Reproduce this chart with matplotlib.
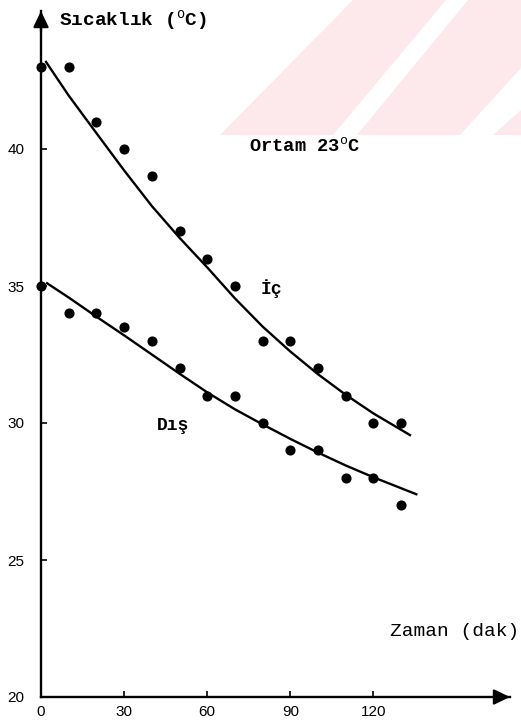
import numpy as np
import matplotlib
matplotlib.use("Agg")
import matplotlib.pyplot as plt
from matplotlib.patches import Polygon

plt.rcParams['mathtext.fontset'] = 'custom'
plt.rcParams['mathtext.rm'] = 'Liberation Mono'
plt.rcParams['mathtext.it'] = 'Liberation Mono'

# ---- data ----
time_min = [0, 10, 20, 30, 40, 50, 60, 70, 80, 90, 100, 110, 120, 130]
ic_temp = [43, 43, 41, 40, 39, 37, 36, 35, 33, 33, 32, 31, 30, 30]
dis_temp = [35, 34, 34, 33.5, 33, 32, 31, 31, 30, 29, 29, 28, 28, 27]

# hand-drawn trend curves
ic_curve_t = [1.8, 10, 20, 30, 40, 50, 60, 70, 80, 90, 100, 110, 120, 133.2]
ic_curve_y = [43.18, 41.95, 40.58, 39.22, 37.92, 36.76, 35.68, 34.55, 33.52,
              32.61, 31.78, 31.03, 30.35, 29.56]
dis_curve_t = [2.2, 10, 20, 30, 40, 50, 60, 70, 80, 90, 100, 110, 120, 135.5]
dis_curve_y = [35.10, 34.58, 33.88, 33.20, 32.50, 31.80, 31.12, 30.50, 29.95,
               29.42, 28.92, 28.45, 28.02, 27.40]

x_ticks = [0, 30, 60, 90, 120]
y_ticks = [20, 25, 30, 35, 40]

W, H = 521, 722
fig = plt.figure(figsize=(W / 100, H / 100), dpi=100)
fig.patch.set_facecolor('white')

# faint watermark stripes in the background (pixel coords from top-left)
def px(pts):
    return [(x / W, 1 - y / H) for x, y in pts]

wm_color = '#fde8ec'
for poly in ([(220, 135), (333, 135), (446, 0), (353, 0)],
             [(357, 135), (460, 135), (521, 68), (521, 0), (468, 0)],
             [(493, 135), (521, 135), (521, 110)]):
    fig.patches.append(Polygon(px(poly), closed=True, transform=fig.transFigure,
                               facecolor=wm_color, edgecolor='none', zorder=-5))

top_px = 11
ax = fig.add_axes([41 / W, 25 / H, (510 - 41) / W, (697 - top_px) / H])
ax.patch.set_visible(False)
ax.set_xlim(0, (510 - 41) / 2.77)
ax.set_ylim(20, 20 + (697 - top_px) / 27.4)

for s in ('top', 'right'):
    ax.spines[s].set_visible(False)
for s in ('left', 'bottom'):
    ax.spines[s].set_linewidth(1.7)
    ax.spines[s].set_color('black')

ax.set_xticks(x_ticks)
ax.set_yticks(y_ticks)
ax.tick_params(axis='both', direction='in', length=4, width=1.2,
               labelsize=11, colors='black')
ax.tick_params(axis='x', pad=6)
ax.tick_params(axis='y', pad=12)
for lab in ax.get_xticklabels() + ax.get_yticklabels():
    lab.set_fontfamily('Liberation Sans')

# arrow heads
head = '-|>,head_length=0.75,head_width=0.36'
ax.annotate('', xy=(0, 1.0), xytext=(0, 0.97), xycoords='axes fraction',
            arrowprops=dict(arrowstyle=head, facecolor='black', edgecolor='black',
                            lw=1.6, mutation_scale=13, shrinkA=0, shrinkB=0),
            annotation_clip=False)
ax.annotate('', xy=(1.0, 0), xytext=(0.97, 0), xycoords='axes fraction',
            arrowprops=dict(arrowstyle=head, facecolor='black', edgecolor='black',
                            lw=1.6, mutation_scale=13, shrinkA=0, shrinkB=0),
            annotation_clip=False)

# points
ax.plot(time_min, ic_temp, 'o', color='black', ms=6.3, clip_on=False, zorder=4)
ax.plot(time_min, dis_temp, 'o', color='black', ms=6.3, clip_on=False, zorder=4)

# trend curves
ax.plot(ic_curve_t, ic_curve_y, color='black', lw=1.7, zorder=3,
        solid_joinstyle='round')
ax.plot(dis_curve_t, dis_curve_y, color='black', lw=1.7, zorder=3,
        solid_joinstyle='round')

mono = dict(family='Liberation Mono', color='black')
ax.text(6.5, 44.7, r'Sıcaklık ($^{\mathrm{o}}$C)', fontsize=14, va='center',
        ha='left', weight='bold', **mono)
ax.text(75, 40.1, r'Ortam 23$^{\mathrm{o}}$C', fontsize=13.5, va='center',
        ha='left', weight='bold', **mono)
ax.text(79.4, 34.9, 'İç', fontsize=13, va='center', ha='left', weight='bold', **mono)
ax.text(41.9, 29.9, 'Dış', fontsize=13, va='center', ha='left', weight='bold', **mono)
ax.text(126, 22.4, 'Zaman (dak)', fontsize=14, va='center', ha='left', **mono)

fig.savefig('out.png', dpi=100, facecolor='white')
